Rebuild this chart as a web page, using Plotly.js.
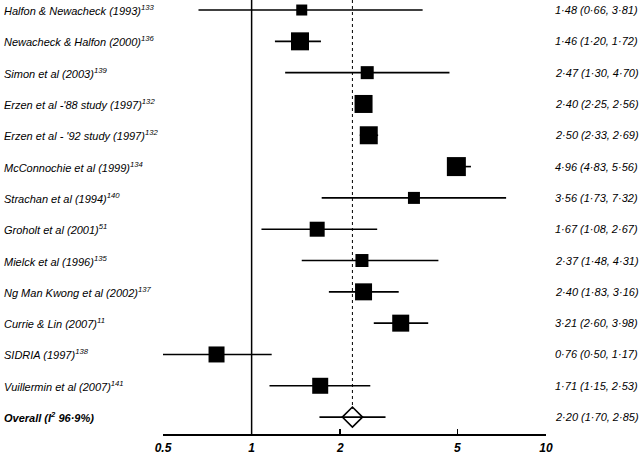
<!DOCTYPE html>
<html>
<head>
<meta charset="utf-8">
<script src="https://cdn.plot.ly/plotly-3.0.1.min.js"></script>
<style>html,body{margin:0;padding:0;background:#fff}#chart{width:642px;height:454px}</style>
</head>
<body>
<div id="chart"></div>
<script>
const studies = ["Halfon & Newacheck (1993)", "Newacheck & Halfon (2000)", "Simon et al (2003)",
  "Erzen et al -'88 study (1997)", "Erzen et al - '92 study (1997)", "McConnochie et al (1999)",
  "Strachan et al (1994)", "Groholt et al (2001)", "Mielck et al (1996)", "Ng Man Kwong et al (2002)",
  "Currie & Lin (2007)", "SIDRIA (1997)", "Vuillermin et al (2007)"];
const refs = ["133", "136", "139", "132", "132", "134", "140", "51", "135", "137", "11", "138", "141"];
const est = [1.48, 1.46, 2.47, 2.40, 2.50, 4.96, 3.56, 1.67, 2.37, 2.40, 3.21, 0.76, 1.71];
const lo  = [0.66, 1.20, 1.30, 2.25, 2.33, 4.83, 1.73, 1.08, 1.48, 1.83, 2.60, 0.50, 1.15];
const hi  = [3.81, 1.72, 4.70, 2.56, 2.69, 5.56, 7.32, 2.67, 4.31, 3.16, 3.98, 1.17, 2.53];
const studyWeight = [11, 18, 13, 18, 18, 19, 12, 15, 13, 17, 17, 16, 16];
const overallLabel = "Overall (I<sup>2</sup> 96·9%)";
const overallEst = 2.20, overallLo = 1.70, overallHi = 2.85;
const tickVals = [0.5, 1, 2, 5, 10];
const tickText = ["0.5", "1", "2", "5", "10"];

const n = studies.length;
const rows = studies.map((_, i) => i);
const fmt = v => v.toFixed(2).replace('.', '·');

const wx = [], wy = [];
for (let i = 0; i < n; i++) { wx.push(lo[i], hi[i], null); wy.push(i, i, null); }
wx.push(overallLo, overallHi); wy.push(n, n);

const traces = [
  {type: 'scatter', mode: 'lines', x: wx, y: wy, line: {color: '#000', width: 1.6}, hoverinfo: 'skip', showlegend: false},
  {type: 'scatter', mode: 'markers', x: est, y: rows,
   marker: {symbol: 'square', size: studyWeight, color: '#000', opacity: 1, line: {width: 0}}, showlegend: false},
  {type: 'scatter', mode: 'markers', x: [overallEst], y: [n],
   marker: {symbol: 'diamond-open', size: 15.5, color: '#000', opacity: 1, line: {width: 1.6, color: '#000'}}, showlegend: false}
];

const font = {family: 'Liberation Sans, Arial, sans-serif', size: 11, color: '#000'};
const annotations = [];
const lx = (2 - 163) / 383, rx = (553 - 163) / 383;
for (let i = 0; i < n; i++) {
  annotations.push({xref: 'paper', yref: 'y', x: lx, y: i, xanchor: 'left', yanchor: 'middle',
    text: '<i>' + studies[i] + '<sup>' + refs[i] + '</sup></i>', showarrow: false, font: font});
  annotations.push({xref: 'paper', yref: 'y', x: rx, y: i, xanchor: 'left', yanchor: 'middle',
    text: '<i>' + fmt(est[i]) + ' (' + fmt(lo[i]) + ', ' + fmt(hi[i]) + ')</i>', showarrow: false, font: font});
}
annotations.push({xref: 'paper', yref: 'y', x: lx, y: n, xanchor: 'left', yanchor: 'middle',
  text: '<b><i>' + overallLabel + '</i></b>', showarrow: false, font: font});
annotations.push({xref: 'paper', yref: 'y', x: rx, y: n, xanchor: 'left', yanchor: 'middle',
  text: '<i>' + fmt(overallEst) + ' (' + fmt(overallLo) + ', ' + fmt(overallHi) + ')</i>', showarrow: false, font: font});

const yTop = -0.32, yBot = 13.54;
const layout = {
  width: 642, height: 454,
  margin: {l: 163, r: 96, t: 0, b: 20},
  paper_bgcolor: '#fff', plot_bgcolor: '#fff',
  xaxis: {type: 'log', range: [Math.log10(0.5), 1], tickvals: tickVals,
    ticktext: tickText.map(t => '<b><i>' + t + '</i></b>'),
    ticks: 'inside', ticklen: 5, tickwidth: 1.5, tickcolor: '#000', ticklabelstandoff: 2,
    showline: true, linecolor: '#000', linewidth: 1.6, showgrid: false, zeroline: false,
    tickfont: {family: 'Liberation Sans, Arial, sans-serif', size: 12, color: '#000'}},
  yaxis: {range: [yBot, yTop], showgrid: false, zeroline: false, showticklabels: false, showline: false, ticks: ''},
  shapes: [
    {type: 'line', xref: 'x', yref: 'paper', x0: 1, x1: 1, y0: 0, y1: 1, line: {color: '#000', width: 1.5}},
    {type: 'line', xref: 'x', yref: 'y', x0: overallEst, x1: overallEst, y0: yTop, y1: n - 0.26,
     line: {color: '#000', width: 1, dash: 'dot'}}
  ],
  annotations: annotations
};
Plotly.newPlot('chart', traces, layout, {displayModeBar: false, staticPlot: true});
</script>
</body>
</html>
